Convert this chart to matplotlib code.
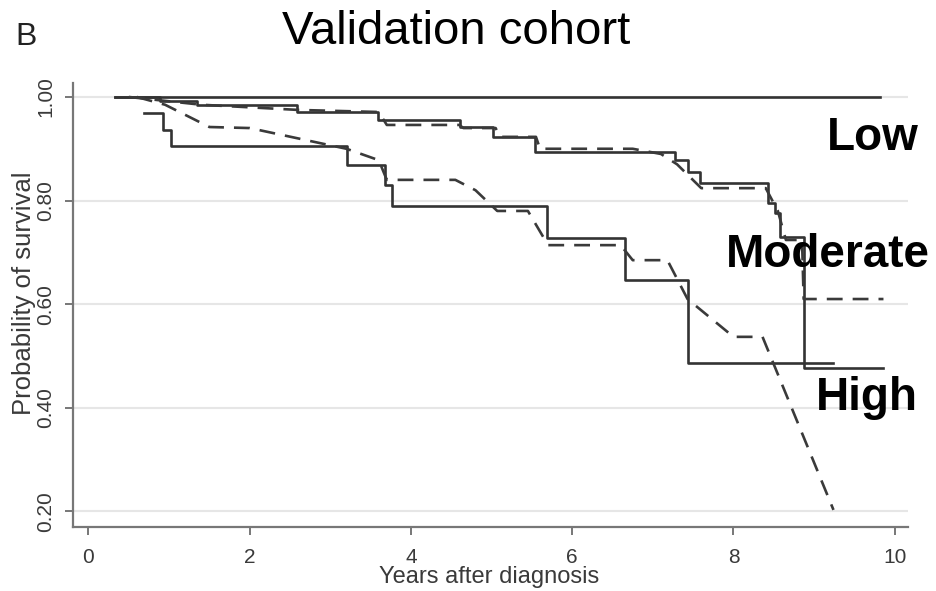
import matplotlib
matplotlib.use("Agg")
import matplotlib.pyplot as plt

plt.rcParams["font.family"] = ["Liberation Sans", "DejaVu Sans"]

# Kaplan-Meier style curves (years, survival probability)
low_t = [0.33, 9.82]
low_s = [1.0, 1.0]

mod_obs_t = [0.33, 0.89, 1.35, 2.59, 3.59, 4.61, 5.02, 5.54, 7.28, 7.43, 7.59,
             8.43, 8.52, 8.58, 8.87, 9.86]
mod_obs_s = [1.0, 0.992, 0.985, 0.971, 0.956, 0.942, 0.923, 0.894, 0.878, 0.855, 0.834,
             0.795, 0.776, 0.73, 0.477, 0.477]

mod_pred_t = [0.5, 1.4, 2.6, 3.6, 3.7, 4.6, 4.65, 5.05, 5.1, 5.55, 5.6, 6.75, 7.1, 7.3,
              7.6, 8.4, 8.55, 8.65, 8.85, 8.87, 9.86]
mod_pred_s = [1.0, 0.985, 0.975, 0.971, 0.946, 0.946, 0.94, 0.94, 0.923, 0.923, 0.90, 0.90,
              0.89, 0.87, 0.824, 0.824, 0.78, 0.724, 0.724, 0.61, 0.61]

high_obs_t = [0.69, 0.93, 1.02, 3.21, 3.68, 3.77, 5.69, 6.66, 7.43, 9.24]
high_obs_s = [0.97, 0.936, 0.905, 0.869, 0.83, 0.79, 0.728, 0.647, 0.486, 0.486]

high_pred_t = [0.6, 0.95, 1.5, 2.0, 2.6, 3.2, 3.6, 3.7, 4.55, 4.8, 5.07, 5.45, 5.7, 6.6,
               6.75, 7.18, 7.43, 8.0, 8.36, 9.24]
high_pred_s = [1.0, 0.985, 0.942, 0.94, 0.92, 0.90, 0.878, 0.84, 0.84, 0.82, 0.78, 0.78,
               0.714, 0.714, 0.685, 0.685, 0.61, 0.537, 0.537, 0.203]

xticks = [0, 2, 4, 6, 8, 10]
yticks = [0.20, 0.40, 0.60, 0.80, 1.00]

groups = ["Low", "Moderate", "High"]
group_pos = [(10.29, 0.898), (10.44, 0.672), (10.29, 0.396)]

fig = plt.figure(figsize=(9.37, 5.91), dpi=100)
ax = fig.add_axes([0.0779, 0.1083, 0.8913, 0.7513])

col = "#333333"
lw = 1.9
ax.step(low_t, low_s, where="post", color=col, lw=lw)
ax.step(mod_obs_t, mod_obs_s, where="post", color=col, lw=lw)
ax.step(high_obs_t, high_obs_s, where="post", color=col, lw=lw)
ax.plot(mod_pred_t, mod_pred_s, color="#3a3a3a", lw=lw, dashes=(6, 3.8))
ax.plot(high_pred_t, high_pred_s, color="#3a3a3a", lw=lw, dashes=(6, 3.8))

ax.set_xlim(-0.192, 10.166)
ax.set_ylim(0.170, 1.027)
ax.set_xticks(xticks)
ax.set_yticks(yticks)
ax.set_yticklabels([f"{v:.2f}" for v in yticks], rotation=90, va="center")
ax.yaxis.grid(True, color="#e6e6e6", lw=1.5)
ax.set_axisbelow(True)

for s in ["top", "right"]:
    ax.spines[s].set_visible(False)
for s in ["left", "bottom"]:
    ax.spines[s].set_color("#777777")
    ax.spines[s].set_linewidth(1.6)
ax.tick_params(axis="both", colors="#777777", length=6, width=1.4, labelsize=15,
               labelcolor="#3a3a3a")
ax.tick_params(axis="y", pad=7)
ax.tick_params(axis="x", pad=9)

ax.set_xlabel("Years after diagnosis", fontsize=17, color="#3a3a3a", labelpad=0)
ax.set_ylabel("Probability of survival", fontsize=18.5, color="#3a3a3a")
ax.yaxis.set_label_coords(-0.044, 0.527)
ax.xaxis.set_label_coords(0.498, -0.088)

for name, (x, y) in zip(groups, group_pos):
    ax.text(x, y, name, fontsize=33, fontweight="bold", ha="right", va="baseline",
            color="black", clip_on=False)

fig.text(0.487, 0.9255, "Validation cohort", fontsize=34, ha="center", va="baseline")
fig.text(0.016, 0.924, "B", fontsize=23, ha="left", va="baseline", color="#222222")

fig.savefig("out.png", dpi=100)
